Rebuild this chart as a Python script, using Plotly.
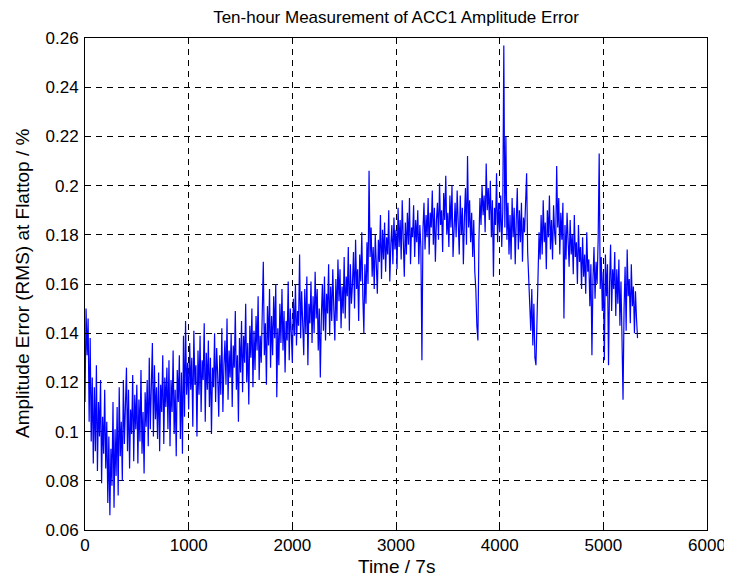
import plotly.graph_objects as go

step = 10
error_pct = [
    0.112, 0.150, 0.131, 0.146, 0.104, 0.138, 0.096, 0.122, 0.087, 0.118,
    0.092, 0.127, 0.084, 0.112, 0.098, 0.121, 0.079, 0.106, 0.091, 0.117,
    0.085, 0.104, 0.071, 0.098, 0.066, 0.093, 0.078, 0.112, 0.069, 0.101,
    0.082, 0.110, 0.074, 0.118, 0.090, 0.104, 0.080, 0.121, 0.095, 0.113,
    0.126, 0.092, 0.117, 0.085, 0.109, 0.099, 0.123, 0.088, 0.115, 0.101,
    0.119, 0.087, 0.113, 0.096, 0.125, 0.091, 0.108, 0.083, 0.116, 0.102,
    0.121, 0.094, 0.130, 0.101, 0.114, 0.136, 0.098, 0.127, 0.105, 0.118,
    0.097, 0.124, 0.092, 0.119, 0.108, 0.131, 0.095, 0.122, 0.110, 0.126,
    0.101, 0.129, 0.094, 0.121, 0.108, 0.133, 0.099, 0.117, 0.090, 0.125,
    0.112, 0.131, 0.097, 0.124, 0.091, 0.139, 0.106, 0.145, 0.115, 0.128,
    0.109, 0.136, 0.117, 0.130, 0.102, 0.141, 0.119, 0.127, 0.098, 0.133,
    0.115, 0.139, 0.108, 0.129, 0.121, 0.144, 0.104, 0.132, 0.117, 0.137,
    0.110, 0.130, 0.099, 0.126, 0.118, 0.140, 0.112, 0.134, 0.123, 0.106,
    0.131, 0.115, 0.142, 0.108, 0.127, 0.137, 0.119, 0.146, 0.113, 0.133,
    0.122, 0.140, 0.110, 0.135, 0.126, 0.149, 0.117, 0.131, 0.104, 0.138,
    0.124, 0.145, 0.116, 0.139, 0.128, 0.152, 0.120, 0.136, 0.111, 0.143,
    0.130, 0.150, 0.118, 0.141, 0.125, 0.147, 0.133, 0.155, 0.121, 0.139,
    0.128, 0.148, 0.169, 0.131, 0.144, 0.119, 0.151, 0.135, 0.158, 0.126,
    0.147, 0.131, 0.155, 0.138, 0.160, 0.114, 0.142, 0.127, 0.152, 0.136,
    0.158, 0.133, 0.149, 0.124, 0.145, 0.137, 0.161, 0.129, 0.150, 0.140,
    0.128, 0.154, 0.139, 0.160, 0.135, 0.149, 0.143, 0.172, 0.138, 0.157,
    0.145, 0.131, 0.158, 0.140, 0.163, 0.127, 0.152, 0.144, 0.161, 0.136,
    0.155, 0.140, 0.165, 0.146, 0.158, 0.133, 0.150, 0.122, 0.147, 0.160,
    0.141, 0.163, 0.137, 0.156, 0.148, 0.168, 0.139, 0.159, 0.145, 0.166,
    0.150, 0.137, 0.162, 0.145, 0.170, 0.153, 0.166, 0.142, 0.159, 0.148,
    0.171, 0.146, 0.163, 0.155, 0.175, 0.141, 0.168, 0.152, 0.160, 0.173,
    0.150, 0.178, 0.158, 0.166, 0.145, 0.172, 0.161, 0.181, 0.155, 0.140,
    0.168, 0.152, 0.177, 0.160, 0.206, 0.171, 0.183, 0.163, 0.175, 0.158,
    0.180, 0.167, 0.156, 0.178, 0.169, 0.188, 0.162, 0.182, 0.170, 0.185,
    0.165, 0.179, 0.172, 0.190, 0.161, 0.176, 0.184, 0.168, 0.187, 0.174,
    0.182, 0.166, 0.191, 0.175, 0.186, 0.170, 0.194, 0.178, 0.163, 0.185,
    0.172, 0.189, 0.176, 0.195, 0.168, 0.183, 0.179, 0.192, 0.171, 0.186,
    0.177, 0.190, 0.168, 0.184, 0.175, 0.129, 0.182, 0.193, 0.174, 0.188,
    0.179, 0.195, 0.172, 0.189, 0.183, 0.198, 0.176, 0.191, 0.169, 0.186,
    0.193, 0.178, 0.201, 0.184, 0.190, 0.173, 0.197, 0.186, 0.204, 0.180,
    0.189, 0.175, 0.196, 0.183, 0.200, 0.171, 0.187, 0.193, 0.179, 0.198,
    0.185, 0.172, 0.196, 0.180, 0.191, 0.168, 0.187, 0.199, 0.176, 0.212,
    0.183, 0.194, 0.177, 0.189, 0.171, 0.186, 0.165, 0.158, 0.143, 0.137,
    0.178, 0.195, 0.184, 0.200, 0.188, 0.196, 0.181, 0.209, 0.190, 0.199,
    0.186, 0.202, 0.179, 0.194, 0.163, 0.191, 0.184, 0.205, 0.177, 0.193,
    0.181, 0.196, 0.175, 0.190, 0.257, 0.183, 0.220, 0.178, 0.193, 0.172,
    0.188, 0.170, 0.195, 0.179, 0.191, 0.168, 0.186, 0.199, 0.174, 0.190,
    0.177, 0.193, 0.169, 0.187, 0.181, 0.196, 0.205, 0.173, 0.160, 0.150,
    0.141, 0.158, 0.135, 0.152, 0.130, 0.127, 0.146, 0.168, 0.181, 0.170,
    0.188, 0.172, 0.194, 0.177, 0.185, 0.166, 0.190, 0.179, 0.196, 0.174,
    0.186, 0.170, 0.192, 0.181, 0.176, 0.208, 0.183, 0.195, 0.172, 0.189,
    0.178, 0.193, 0.146, 0.184, 0.170, 0.189, 0.175, 0.167, 0.186, 0.172,
    0.180, 0.164, 0.188, 0.171, 0.177, 0.160, 0.184, 0.169, 0.175, 0.158,
    0.179, 0.163, 0.172, 0.156, 0.181, 0.165, 0.170, 0.151, 0.168, 0.131,
    0.162, 0.175, 0.154, 0.169, 0.160, 0.178, 0.213, 0.158, 0.171, 0.149,
    0.165, 0.129, 0.172, 0.155, 0.168, 0.127, 0.160, 0.176, 0.149, 0.166,
    0.158, 0.173, 0.147, 0.166, 0.152, 0.170, 0.143, 0.161, 0.138, 0.113,
    0.150, 0.167, 0.141, 0.174, 0.155, 0.162, 0.144, 0.168, 0.151, 0.159,
    0.140, 0.157, 0.146, 0.138,
]
time_s = [i * step for i in range(len(error_pct))]

x_ticks = [0, 1000, 2000, 3000, 4000, 5000, 6000]
y_ticks = [0.06, 0.08, 0.10, 0.12, 0.14, 0.16, 0.18, 0.20, 0.22, 0.24, 0.26]
y_tick_text = ["0.06", "0.08", "0.1", "0.12", "0.14", "0.16", "0.18", "0.2", "0.22", "0.24", "0.26"]

fig = go.Figure()
fig.add_trace(go.Scatter(x=time_s, y=error_pct, mode="lines",
                         line=dict(color="#0000ff", width=1.2), showlegend=False))

font = "Liberation Sans, Arial, sans-serif"
axis_common = dict(
    showline=True, linecolor="black", linewidth=1, mirror="all",
    ticks="inside", ticklen=5, tickcolor="black",
    showgrid=True, gridcolor="black", gridwidth=1, griddash="6px,5px",
    zeroline=False, automargin=False,
    tickfont=dict(family=font, size=17, color="black"),
)
fig.update_xaxes(range=[0, 6000], tickvals=x_ticks, **axis_common)
fig.update_yaxes(range=[0.06, 0.26], tickvals=y_ticks, ticktext=y_tick_text,
                 ticklabelstandoff=2, **axis_common)

# page body has an 8px margin; the figure is sized to fit the window
fig_w, fig_h = 724, 571
left, top = 77, 30
plot_w, plot_h = 622, 492
fig.update_layout(
    width=fig_w, height=fig_h,
    margin=dict(l=left, r=fig_w - left - plot_w, t=top, b=fig_h - top - plot_h),
    paper_bgcolor="white", plot_bgcolor="white",
    title=dict(text="Ten-hour Measurement of ACC1 Amplitude Error",
               font=dict(family=font, size=17, color="black"),
               x=0.5, xref="paper", xanchor="center", y=1 - 9 / fig_h, yanchor="middle"),
    annotations=[
        dict(text="Time / 7s", xref="paper", yref="paper",
             x=0.5, y=-(566 - 530) / plot_h, xanchor="center", yanchor="middle",
             showarrow=False, font=dict(family=font, size=19, color="black")),
        dict(text="Amplitude Error (RMS) at Flattop / %", xref="paper", yref="paper",
             x=-(85 - 22) / plot_w, y=0.5, xanchor="center", yanchor="middle",
             textangle=-90, showarrow=False, font=dict(family=font, size=19, color="black")),
    ],
)
fig.write_html("out.html")
